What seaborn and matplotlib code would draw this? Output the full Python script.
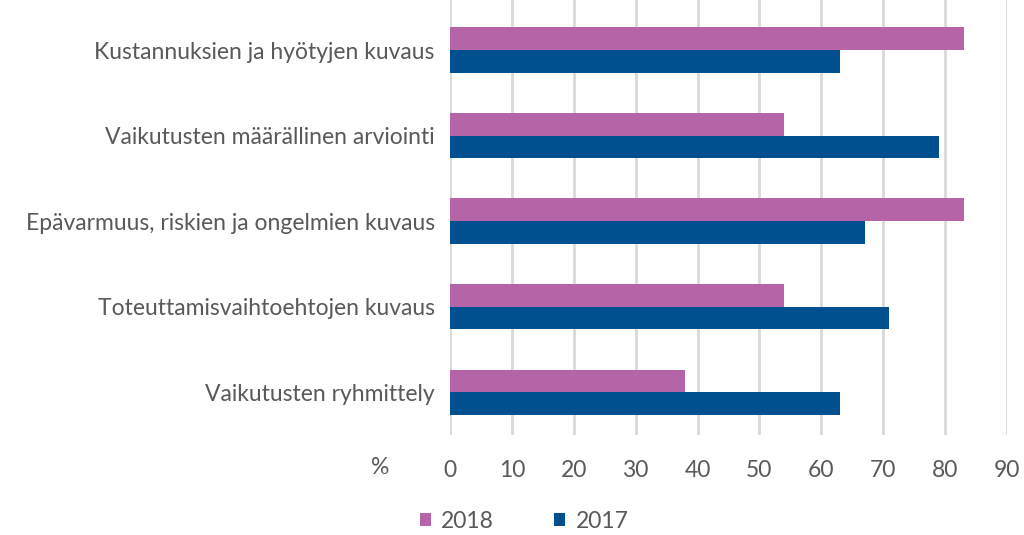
import matplotlib
matplotlib.use("Agg")
import matplotlib.pyplot as plt
import seaborn as sns
import pandas as pd

categories = [
    "Kustannuksien ja hyötyjen kuvaus",
    "Vaikutusten määrällinen arviointi",
    "Epävarmuus, riskien ja ongelmien kuvaus",
    "Toteuttamisvaihtoehtojen kuvaus",
    "Vaikutusten ryhmittely",
]
values_2018 = [83, 54, 83, 54, 38]
values_2017 = [63, 79, 67, 71, 63]
years = ["2018", "2017"]
colors = ["#B565A7", "#00508F"]
xticks = [0, 10, 20, 30, 40, 50, 60, 70, 80, 90]

df = pd.DataFrame({
    "kategoria": categories * 2,
    "arvo": values_2018 + values_2017,
    "vuosi": ["2018"] * len(categories) + ["2017"] * len(categories),
})

sns.set_style("white")
plt.rcParams["font.family"] = ["Lato", "DejaVu Sans"]
text_color = "#595959"
fs = 16.5

fig = plt.figure(figsize=(10.24, 5.35), dpi=100)
ax = fig.add_axes([450 / 1024, 100 / 535, 557 / 1024, 435 / 535])

sns.barplot(data=df, y="kategoria", x="arvo", hue="vuosi", hue_order=years,
            order=categories, palette=colors, orient="h", width=0.53,
            saturation=1, linewidth=0, ax=ax)

ax.set_xlim(0, 90)
ax.set_ylim(4.5, -0.585)
ax.set_xticks(xticks)
ax.set_xticklabels([str(t) for t in xticks])
ax.grid(axis="x", color="#D9D9D9", linewidth=2)
ax.set_axisbelow(True)
for s in ax.spines.values():
    s.set_visible(False)
ax.set_xlabel("")
ax.set_ylabel("")
ax.tick_params(axis="x", length=0, pad=18, labelsize=fs, labelcolor=text_color)
ax.tick_params(axis="y", length=0, pad=11, labelsize=fs, labelcolor=text_color)

fig.text(380 / 1024, 1 - 468 / 535, "%", ha="center", va="center",
         fontsize=fs, color=text_color)

ax.legend_.remove()
handles, labels = ax.get_legend_handles_labels()
fig.legend(handles, labels, loc="center", bbox_to_anchor=(524 / 1024, 1 - 521 / 535),
           ncol=2, frameon=False, fontsize=fs, labelcolor=text_color,
           handlelength=0.5, handleheight=0.5, columnspacing=2.6, handletextpad=0.45)

fig.savefig("out.png", dpi=100)
